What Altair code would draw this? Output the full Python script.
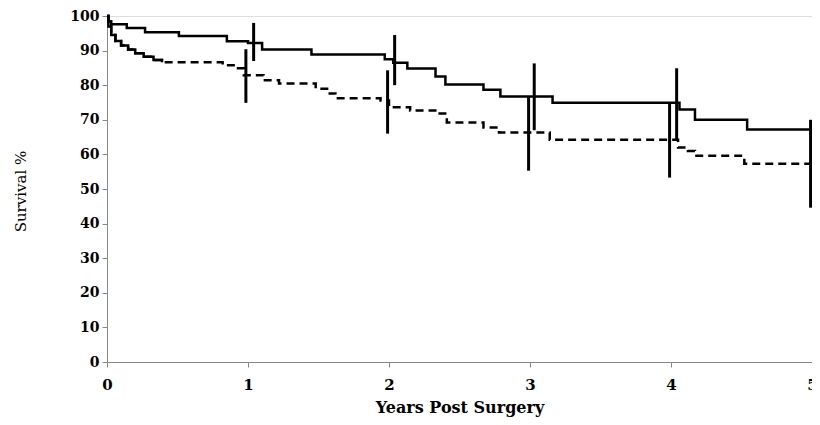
import altair as alt
import pandas as pd

# Kaplan-Meier style step curves (years, survival %)
solid_t = [0, 0.01, 0.03, 0.14, 0.27, 0.51, 0.85, 1.0, 1.1, 1.45, 1.97, 2.03, 2.13, 2.33, 2.40, 2.67, 2.79, 3.16, 4.06, 4.17, 4.54, 5.0]
solid_s = [100, 98.5, 97.6, 96.5, 95.3, 94.2, 92.7, 92.2, 90.3, 88.9, 87.5, 86.5, 84.8, 82.5, 80.2, 78.7, 76.7, 74.9, 73.0, 70.0, 67.2, 67.2]

dashed_t = [0, 0.01, 0.03, 0.06, 0.10, 0.15, 0.20, 0.26, 0.33, 0.39, 0.82, 0.91, 0.97, 1.11, 1.22, 1.48, 1.57, 1.62, 1.94, 2.0, 2.15, 2.34, 2.41, 2.67, 2.78, 3.14, 4.05, 4.12, 4.17, 4.52, 5.0]
dashed_s = [100, 97, 94.5, 92.8, 91.5, 90.3, 89.2, 88.2, 87.3, 86.6, 85.8, 84.9, 82.9, 81.4, 80.5, 79.0, 77.6, 76.2, 75.6, 73.6, 72.7, 71.8, 69.2, 67.8, 66.3, 64.2, 62.0, 61.0, 59.6, 57.3, 57.3]

# confidence bars at yearly marks
solid_bar_t = [1.04, 2.04, 3.03, 4.04, 5.04]
solid_lo = [87.0, 80.0, 67.0, 64.0, 54.0]
solid_hi = [98.0, 94.5, 86.3, 84.9, 78.0]
dashed_bar_t = [0.985, 1.99, 2.99, 3.99, 4.99]
dashed_lo = [74.9, 66.0, 55.3, 53.3, 44.6]
dashed_hi = [90.4, 84.3, 76.7, 74.7, 70.0]

x_ticks = [0, 1, 2, 3, 4, 5]
y_ticks = [0, 10, 20, 30, 40, 50, 60, 70, 80, 90, 100]

solid_df = pd.DataFrame({"t": solid_t, "s": solid_s})
dashed_df = pd.DataFrame({"t": dashed_t, "s": dashed_s})
sbar = pd.DataFrame({"t": solid_bar_t, "lo": solid_lo, "hi": solid_hi})
dbar = pd.DataFrame({"t": dashed_bar_t, "lo": dashed_lo, "hi": dashed_hi})

FONT = "DejaVu Serif"

xscale = alt.Scale(domain=[0, 5], nice=False, zero=False)
yscale = alt.Scale(domain=[0, 100], nice=False)

xaxis = alt.Axis(values=x_ticks, format="d", title="Years Post Surgery", grid=False,
                 labelFont=FONT, labelFontWeight="bold", labelFontSize=15, labelPadding=10,
                 labelOverlap=False,
                 titleFont=FONT, titleFontWeight="bold", titleFontSize=16,
                 titleY=45, titleBaseline="middle", labelFlush=False)
yaxis = alt.Axis(values=y_ticks, title="Survival %", grid=False,
                 labelFont=FONT, labelFontWeight="bold", labelFontSize=14, labelPadding=3,
                 labelOverlap=False,
                 titleFont=FONT, titleFontWeight="normal", titleFontSize=15,
                 titleX=-87, titleY=175, titleAlign="center", titleBaseline="middle",
                 labelFlush=False)

solid_line = alt.Chart(solid_df).mark_line(interpolate="step-after", color="black", strokeWidth=2.5).encode(
    x=alt.X("t:Q", scale=xscale, axis=xaxis),
    y=alt.Y("s:Q", scale=yscale, axis=yaxis),
)
dashed_line = alt.Chart(dashed_df).mark_line(interpolate="step-after", color="black", strokeWidth=2.5,
                                             strokeDash=[8, 5]).encode(
    x=alt.X("t:Q", scale=xscale, axis=xaxis),
    y=alt.Y("s:Q", scale=yscale, axis=yaxis),
)
dashed_early = alt.Chart(dashed_df).transform_filter("datum.t <= 0.39").mark_line(
    interpolate="step-after", color="black", strokeWidth=2.5).encode(
    x=alt.X("t:Q", scale=xscale, axis=xaxis),
    y=alt.Y("s:Q", scale=yscale, axis=yaxis),
)
sbars = alt.Chart(sbar).mark_rule(color="black", strokeWidth=3, clip=True).encode(
    x=alt.X("t:Q", scale=xscale, axis=xaxis), y=alt.Y("lo:Q", scale=yscale, axis=yaxis), y2="hi:Q")
dbars = alt.Chart(dbar).mark_rule(color="black", strokeWidth=3, clip=True).encode(
    x=alt.X("t:Q", scale=xscale, axis=xaxis), y=alt.Y("lo:Q", scale=yscale, axis=yaxis), y2="hi:Q")

chart = alt.layer(dashed_line, dashed_early, solid_line, dbars, sbars).properties(
    width=705, height=346,
    autosize=alt.AutoSizeParams(type="none"),
    padding={"left": 99, "top": 8, "right": 0, "bottom": 55},
).configure_view(stroke=None).configure_axis(
    grid=False, domainColor="#8a8a8a", domainWidth=2, tickColor="#8a8a8a", tickWidth=1.5,
    tickSize=4, labelColor="black", titleColor="black",
).configure(background="white")

chart.save("out.html", embed_options={"renderer": "svg", "actions": False})
